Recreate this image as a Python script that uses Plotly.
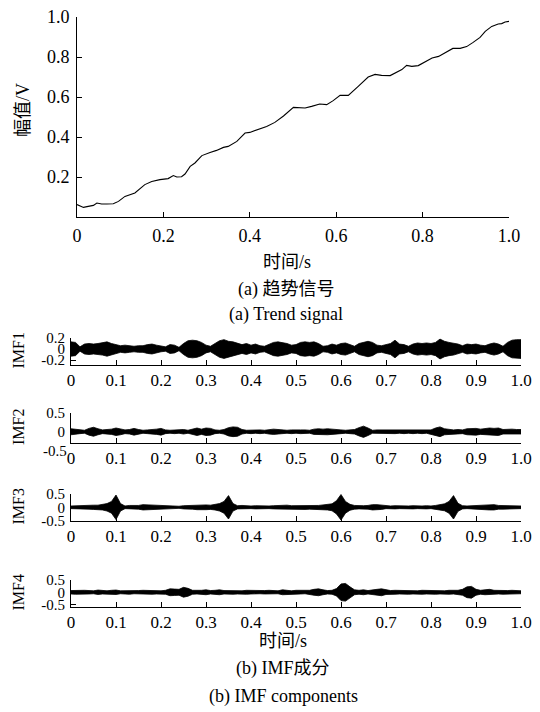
import plotly.graph_objects as go

W, H = 540, 712

# ---------------- data: trend signal ----------------
trend_t = [0.000, 0.015, 0.026, 0.038, 0.046, 0.057, 0.069, 0.084, 0.096, 0.111,
           0.134, 0.157, 0.173, 0.192, 0.211, 0.223, 0.231, 0.242, 0.250, 0.262,
           0.273, 0.289, 0.308, 0.323, 0.339, 0.350, 0.370, 0.389, 0.400, 0.424,
           0.439, 0.458, 0.478, 0.501, 0.528, 0.543, 0.562, 0.578, 0.593, 0.609,
           0.628, 0.651, 0.674, 0.690, 0.705, 0.725, 0.744, 0.752, 0.763, 0.775,
           0.790, 0.806, 0.822, 0.837, 0.852, 0.870, 0.887, 0.902, 0.917, 0.933,
           0.945, 0.960, 0.975, 0.983, 0.991, 1.000]
trend_v = [0.062, 0.048, 0.053, 0.058, 0.070, 0.065, 0.065, 0.066, 0.078, 0.103,
           0.120, 0.162, 0.178, 0.187, 0.192, 0.207, 0.200, 0.201, 0.215, 0.253,
           0.270, 0.307, 0.323, 0.333, 0.348, 0.353, 0.378, 0.420, 0.423, 0.442,
           0.453, 0.473, 0.505, 0.548, 0.545, 0.553, 0.565, 0.562, 0.582, 0.608,
           0.608, 0.653, 0.700, 0.713, 0.708, 0.707, 0.728, 0.737, 0.758, 0.753,
           0.757, 0.775, 0.795, 0.803, 0.820, 0.843, 0.843, 0.852, 0.873, 0.898,
           0.928, 0.953, 0.965, 0.967, 0.975, 0.978]

trend_xticks = [0, 0.2, 0.4, 0.6, 0.8, 1.0]
trend_xticklabels = ["0", "0.2", "0.4", "0.6", "0.8", "1.0"]
trend_yticks = [0.2, 0.4, 0.6, 0.8, 1.0]
trend_yticklabels = ["0.2", "0.4", "0.6", "0.8", "1.0"]

# ---------------- data: IMF envelopes (half amplitude, read every 0.01 s) ----------------
env_time = [i / 100 for i in range(101)]

imf1_env = [0.13, 0.12, 0.04, 0.09, 0.10, 0.09, 0.10, 0.11, 0.13, 0.10,
            0.08, 0.06, 0.07, 0.06, 0.05, 0.06, 0.06, 0.08, 0.09, 0.07,
            0.05, 0.04, 0.08, 0.07, 0.03, 0.10, 0.15, 0.16, 0.15, 0.12,
            0.07, 0.05, 0.10, 0.15, 0.17, 0.14, 0.13, 0.10, 0.08, 0.10,
            0.07, 0.09, 0.06, 0.05, 0.09, 0.12, 0.13, 0.12, 0.10, 0.07,
            0.08, 0.12, 0.13, 0.12, 0.13, 0.10, 0.05, 0.06, 0.09, 0.07,
            0.10, 0.11, 0.08, 0.05, 0.10, 0.12, 0.14, 0.12, 0.07, 0.06,
            0.08, 0.10, 0.16, 0.09, 0.08, 0.05, 0.09, 0.11, 0.10, 0.11,
            0.10, 0.12, 0.18, 0.14, 0.12, 0.11, 0.09, 0.06, 0.09, 0.08,
            0.09, 0.07, 0.06, 0.09, 0.11, 0.09, 0.05, 0.12, 0.16, 0.17,
            0.17]

imf2_env = [0.08, 0.07, 0.05, 0.04, 0.09, 0.12, 0.08, 0.05, 0.06, 0.07,
            0.10, 0.08, 0.05, 0.06, 0.09, 0.06, 0.04, 0.05, 0.05, 0.07,
            0.09, 0.05, 0.04, 0.05, 0.04, 0.06, 0.04, 0.06, 0.10, 0.07,
            0.10, 0.09, 0.05, 0.04, 0.06, 0.11, 0.13, 0.12, 0.06, 0.04,
            0.05, 0.04, 0.05, 0.04, 0.06, 0.07, 0.06, 0.05, 0.04, 0.05,
            0.04, 0.05, 0.05, 0.04, 0.07, 0.08, 0.07, 0.08, 0.07, 0.05,
            0.05, 0.04, 0.05, 0.06, 0.11, 0.15, 0.10, 0.04, 0.05, 0.05,
            0.04, 0.05, 0.05, 0.04, 0.05, 0.04, 0.05, 0.04, 0.05, 0.04,
            0.05, 0.10, 0.13, 0.08, 0.06, 0.05, 0.06, 0.05, 0.08, 0.09,
            0.09, 0.07, 0.08, 0.10, 0.09, 0.10, 0.06, 0.07, 0.07, 0.06,
            0.06]

imf3_env = [0.05, 0.06, 0.06, 0.07, 0.07, 0.08, 0.08, 0.10, 0.14, 0.22,
            0.46, 0.14, 0.05, 0.07, 0.06, 0.07, 0.10, 0.09, 0.10, 0.08,
            0.06, 0.05, 0.04, 0.05, 0.04, 0.06, 0.07, 0.07, 0.09, 0.10,
            0.09, 0.08, 0.10, 0.14, 0.22, 0.44, 0.14, 0.06, 0.07, 0.05,
            0.05, 0.06, 0.05, 0.06, 0.05, 0.06, 0.07, 0.07, 0.08, 0.06,
            0.06, 0.08, 0.08, 0.07, 0.06, 0.07, 0.09, 0.10, 0.13, 0.25,
            0.48, 0.22, 0.11, 0.07, 0.06, 0.06, 0.07, 0.10, 0.10, 0.08,
            0.05, 0.05, 0.06, 0.05, 0.06, 0.05, 0.06, 0.05, 0.05, 0.06,
            0.05, 0.07, 0.10, 0.13, 0.22, 0.44, 0.15, 0.06, 0.05, 0.06,
            0.07, 0.07, 0.09, 0.10, 0.10, 0.07, 0.07, 0.06, 0.06, 0.06,
            0.05]

imf4_env = [0.07, 0.08, 0.06, 0.08, 0.07, 0.06, 0.09, 0.07, 0.06, 0.08,
            0.09, 0.06, 0.07, 0.08, 0.06, 0.07, 0.08, 0.07, 0.08, 0.07,
            0.06, 0.08, 0.14, 0.13, 0.12, 0.20, 0.16, 0.08, 0.07, 0.08,
            0.10, 0.07, 0.08, 0.10, 0.07, 0.06, 0.08, 0.07, 0.06, 0.08,
            0.07, 0.08, 0.06, 0.07, 0.08, 0.07, 0.06, 0.10, 0.07, 0.06,
            0.08, 0.07, 0.06, 0.08, 0.12, 0.14, 0.10, 0.07, 0.08, 0.15,
            0.34, 0.36, 0.22, 0.10, 0.08, 0.10, 0.07, 0.08, 0.12, 0.14,
            0.09, 0.07, 0.08, 0.07, 0.06, 0.08, 0.07, 0.06, 0.08, 0.07,
            0.06, 0.08, 0.07, 0.06, 0.08, 0.07, 0.08, 0.12, 0.22, 0.24,
            0.12, 0.08, 0.10, 0.12, 0.08, 0.07, 0.08, 0.07, 0.08, 0.07,
            0.06]

imf_names = ["IMF1", "IMF2", "IMF3", "IMF4"]
imf_envs = [imf1_env, imf2_env, imf3_env, imf4_env]
imf_xticks = [0, 0.1, 0.2, 0.3, 0.4, 0.5, 0.6, 0.7, 0.8, 0.9, 1.0]
imf_xticklabels = ["0", "0.1", "0.2", "0.3", "0.4", "0.5", "0.6", "0.7", "0.8", "0.9", "1.0"]
imf_yticks = [[0.2, 0, -0.2], [0.5, 0], [0.5, 0, -0.5], [0.5, 0, -0.5]]
imf_yticklabels = [["0.2", "0", "-0.2"], ["0.5", "0"], ["0.5", "0", "-0.5"], ["0.5", "0", "-0.5"]]
imf_yranges = [[-0.29, 0.2], [-0.30, 0.5], [-0.515, 0.5], [-0.6, 0.5]]

# ---------------- layout geometry (pixels) ----------------
LATIN = "Liberation Serif"
MIXED = "Liberation Serif, Noto Sans CJK SC"
top_px = (77, 509, 17, 217)            # x0, x1, ytop, ybottom
imf_x_px = (71, 521)
imf_y_px = [(338, 365), (413, 443), (494, 521), (580, 607)]


def px_x(x):
    return x / W


def px_y(y):
    return 1 - y / H


fig = go.Figure()

axis_common = dict(showline=True, linecolor="black", linewidth=1, mirror=False,
                   ticks="inside", ticklen=5, tickcolor="black", tickwidth=1,
                   showgrid=False, zeroline=False, automargin=False)

# top: trend signal
fig.add_trace(go.Scatter(x=trend_t, y=trend_v, mode="lines",
                         line=dict(color="black", width=1.1),
                         xaxis="x", yaxis="y", showlegend=False))

layout = dict(
    width=W, height=H, autosize=False, margin=dict(l=0, r=0, t=0, b=0, pad=0),
    paper_bgcolor="white", plot_bgcolor="white",
    font=dict(family=LATIN, color="black", size=18),
    showlegend=False,
)
layout["xaxis"] = dict(axis_common, domain=[px_x(top_px[0]), px_x(top_px[1])], range=[0, 1.0],
                       tickvals=trend_xticks, ticktext=trend_xticklabels, anchor="y",
                       tickfont=dict(size=18, family=LATIN), ticklabelstandoff=2)
layout["yaxis"] = dict(axis_common, domain=[px_y(top_px[3]), px_y(top_px[2])], range=[0, 1.0],
                       tickvals=trend_yticks, ticktext=trend_yticklabels, anchor="x",
                       tickfont=dict(size=18, family=LATIN), ticklabelstandoff=3)

annotations = []
for i, (name, env) in enumerate(zip(imf_names, imf_envs)):
    k = i + 2
    xa, ya = f"x{k}", f"y{k}"
    poly_x = env_time + env_time[::-1]
    poly_y = list(env) + [-a for a in env[::-1]]
    fig.add_trace(go.Scatter(x=poly_x, y=poly_y, mode="lines", fill="toself",
                             fillcolor="black", line=dict(color="black", width=0.8),
                             xaxis=xa, yaxis=ya, showlegend=False, name=name))
    yt, yb = imf_y_px[i]
    layout[f"xaxis{k}"] = dict(axis_common, domain=[px_x(imf_x_px[0]), px_x(imf_x_px[1])],
                               range=[0, 1.0], tickvals=imf_xticks, ticktext=imf_xticklabels,
                               anchor=ya, tickfont=dict(size=17, family=LATIN), ticklabelstandoff=0)
    layout[f"yaxis{k}"] = dict(axis_common, domain=[px_y(yb), px_y(yt)], range=imf_yranges[i],
                               tickvals=imf_yticks[i], ticktext=imf_yticklabels[i], anchor=xa,
                               tickfont=dict(size=15, family=LATIN), ticklabelstandoff=2)
    annotations.append(dict(text=name, x=px_x(18), y=px_y((yt + yb) / 2 - 1), xref="paper", yref="paper",
                            textangle=-90, showarrow=False, xanchor="center", yanchor="middle",
                            font=dict(size=16, family=LATIN)))

# IMF2 lower tick label sits just below its axis range
annotations.append(dict(text="-0.5", x=px_x(imf_x_px[0]), y=px_y(451), xref="paper", yref="paper",
                        xanchor="right", yanchor="middle", xshift=-2, showarrow=False,
                        font=dict(size=15, family=LATIN)))

texts = [
    ("幅值/V", 23, 110, -90, 18, MIXED),
    ("时间/s", 287, 262, 0, 18, MIXED),
    ("(a) 趋势信号", 286, 290, 0, 18, MIXED),
    ("(a) Trend signal", 286, 315, 0, 18, LATIN),
    ("时间/s", 283, 641, 0, 18, MIXED),
    ("(b) IMF成分", 283, 668, 0, 18, MIXED),
    ("(b) IMF components", 283, 696, 0, 18, LATIN),
]
for txt, x, y, ang, sz, fam in texts:
    annotations.append(dict(text=txt, x=px_x(x), y=px_y(y), xref="paper", yref="paper",
                            textangle=ang, showarrow=False, xanchor="center", yanchor="middle",
                            font=dict(size=sz, family=fam)))

layout["annotations"] = annotations
fig.update_layout(**layout)
fig.write_html("out.html",
               post_script="document.body.style.margin='0';document.body.style.padding='0';")
